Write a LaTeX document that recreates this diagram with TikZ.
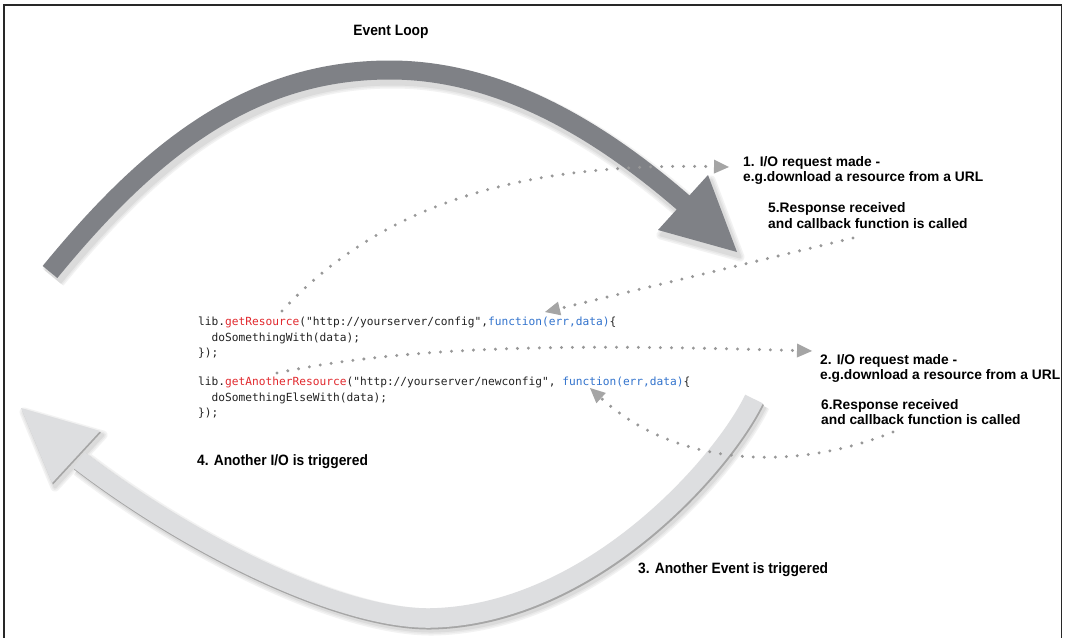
\documentclass[tikz,border=0pt]{standalone}
\usepackage{fontspec}
\setmainfont{Liberation Sans}
\newfontfamily\codefont{DejaVu Sans Mono}
\newfontfamily\condfont[FakeStretch=0.92]{Liberation Sans}
\usetikzlibrary{arrows.meta}
\definecolor{arcdark}{RGB}{127,129,134}
\definecolor{arclight}{RGB}{221,222,224}
\definecolor{dotgray}{RGB}{152,152,152}
\definecolor{headgray}{RGB}{165,165,165}
\definecolor{codered}{RGB}{225,40,45}
\definecolor{codeblue}{RGB}{50,115,205}
\definecolor{codeink}{RGB}{35,35,35}
\definecolor{frameink}{RGB}{40,40,40}
\tikzset{
  darkpath/.style={insert path={(50,272) .. controls (150,150) and (250,70) .. (390,70) .. controls (500,70) and (600,130) .. (686,205)}},
  darkhead/.style={insert path={(737,252) -- (658,230) -- (708,175) -- cycle}},
  lightpath/.style={insert path={(754,399) .. controls (722,465) and (590,615) .. (430,618) .. controls (340,619) and (190,545) .. (79,460)}},
  lighthead/.style={insert path={(21,408) -- (100,431) -- (52,483) -- cycle}},
  lbl/.style={font=\fontsize{13.8}{15.5}\selectfont\bfseries, anchor=base west, inner sep=0pt},
  cond/.style={font=\condfont\fontsize{15}{18}\selectfont\bfseries, inner sep=0pt},
  codeline/.style={font=\codefont\fontsize{11.2}{15.5}\selectfont, anchor=base west, inner sep=0pt, text=codeink},
  dotarrow/.style={draw=dotgray, line width=3.3pt, line cap=round, dash pattern=on 0pt off 11pt,
    -{Triangle[length=15pt,width=14pt,line width=0pt,fill=headgray]}},
}
\begin{document}
\begin{tikzpicture}[x=1pt,y=-1pt]
\useasboundingbox (0,0) rectangle (1065,637);
\fill[white] (0,0) rectangle (1065,637);
% frame
\draw[frameink, line width=1.6pt] (4,645) -- (4,5) -- (1061.5,5) -- (1061.5,645);

% shadows of the big arcs
\foreach \w/\h/\c in {27/9/black!5, 24/6/black!9, 21/3/black!14}{
  \draw[\c, line width=\w pt, shift={(3,5)}, darkpath];
  \filldraw[\c, line width=\h pt, line join=round, shift={(3,5)}, darkhead];
  \draw[\c, line width=\w pt, shift={(3,4)}, lightpath];
  \filldraw[\c, line width=\h pt, line join=round, shift={(3,4)}, lighthead];
}
\draw[black!35, line width=20pt, shift={(1,1.5)}, lightpath];
\fill[black!35, shift={(1,1.5)}, lighthead];

% big arcs
\draw[arcdark, line width=19pt, darkpath];
\fill[arcdark, darkhead];
\draw[arclight, line width=19.5pt, lightpath];
\fill[arclight, lighthead];

% title and labels
\node[cond, anchor=base] (title) at (391,35.4) {Event Loop};

\node[lbl] (l1a) at (743,166.5) {1. I/O request made -};
\node[lbl] (l1b) at (743,181.5) {e.g.download a resource from a URL};
\node[lbl] (l5a) at (768,212.5) {5.Response received};
\node[lbl] (l5b) at (768,228.5) {and callback function is called};
\node[lbl] (l2a) at (820,364.5) {2. I/O request made -};
\node[lbl] (l2b) at (820,379.5) {e.g.download a resource from a URL};
\node[lbl] (l6a) at (821,409.5) {6.Response received};
\node[lbl] (l6b) at (821,424.5) {and callback function is called};
\node[cond, anchor=base west] (l4) at (197,465.4) {4. Another I/O is triggered};
\node[cond, anchor=base west] (l3) at (638,573.4) {3. Another Event is triggered};

% code
\node[codeline] (c1) at (198,325.8) {lib.\textcolor{codered}{getResource}("http://yourserver/config",\textcolor{codeblue}{function(err,data)}\{};
\node[codeline] (c2) at (211.5,341.3) {doSomethingWith(data);};
\node[codeline] (c3) at (198,356.8) {\});};
\node[codeline] (c4) at (198,385.8) {lib.\textcolor{codered}{getAnotherResource}("http://yourserver/newconfig", \textcolor{codeblue}{function(err,data)}\{};
\node[codeline] (c5) at (211.5,401.3) {doSomethingElseWith(data);};
\node[codeline] (c6) at (198,416.8) {\});};

% dotted arrows
\coordinate (r1) at (282,311);
\coordinate (q1) at (729,167);
\coordinate (r5) at (853,238);
\coordinate (q5) at (545,312);
\coordinate (r2) at (277,373);
\coordinate (q2) at (812,351);
\coordinate (r6) at (893,432);
\coordinate (q6) at (590,388);
\draw[dotarrow] (r1) .. controls (380,205) and (520,162) .. (q1);
\draw[dotarrow] (r5) -- (q5);
\draw[dotarrow] (r2) .. controls (420,343) and (600,345) .. (q2);
\draw[dotarrow] (r6) .. controls (800,470) and (680,470) .. (q6);
\end{tikzpicture}
\end{document}
